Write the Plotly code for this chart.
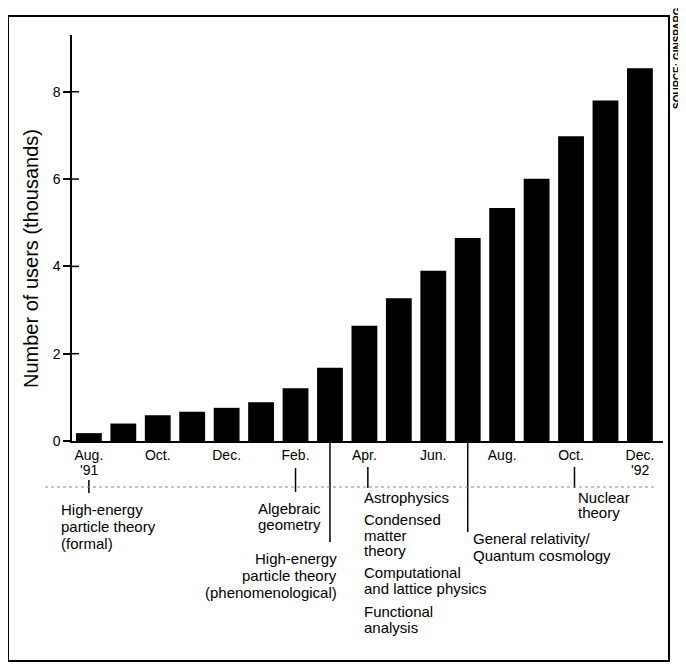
import plotly.graph_objects as go

# ---- data ----
months = ["Aug. '91", "Sep. '91", "Oct. '91", "Nov. '91", "Dec. '91", "Jan. '92",
          "Feb. '92", "Mar. '92", "Apr. '92", "May '92", "Jun. '92", "Jul. '92",
          "Aug. '92", "Sep. '92", "Oct. '92", "Nov. '92", "Dec. '92"]
users_thousands = [0.18, 0.40, 0.59, 0.67, 0.76, 0.89, 1.21, 1.68, 2.64, 3.27,
                   3.90, 4.65, 5.34, 6.01, 6.98, 7.80, 8.54]
tick_index = [0, 2, 4, 6, 8, 10, 12, 14, 16]
tick_text = ["Aug.", "Oct.", "Dec.", "Feb.", "Apr.", "Jun.", "Aug.", "Oct.", "Dec."]
year_text = ["'91", "'92"]
y_ticks = [0, 2, 4, 6, 8]
y_title = "Number of users (thousands)"
source_text = "SOURCE: GINSPARG"

# page body has an 8px margin; work in page pixel coordinates
OFF = 8
W, H = 686 - OFF, 664 - OFF
AX_L, AX_R, AX_T, AX_B = 72, 663, 35, 441          # plot area in page pixels
L, T = AX_L - OFF, AX_T - OFF
R, B = W - (AX_R - OFF), H - (AX_B - OFF)
PW, PH = AX_R - AX_L, AX_B - AX_T
FONT = "Liberation Sans, Arial, Helvetica, sans-serif"


def fx(px):
    return (px - AX_L) / PW


def fy(py):
    return (AX_B - py) / PH


x_idx = list(range(len(months)))

fig = go.Figure()
fig.add_trace(go.Bar(x=x_idx, y=users_thousands, width=0.75,
                     marker=dict(color="black", line=dict(width=0)),
                     hovertext=months, hoverinfo="text+y"))

shapes = []
# outer frame
shapes.append(dict(type="rect", xref="paper", yref="paper",
                   x0=fx(8), x1=fx(669), y0=fy(661), y1=fy(16),
                   line=dict(color="black", width=2)))
# y tick crosses (inside part)
for v in y_ticks[1:]:
    shapes.append(dict(type="line", xref="paper", yref="y",
                       x0=0, x1=fx(79), y0=v, y1=v,
                       line=dict(color="black", width=1.5)))
# vertical separators from x-axis
for i, bottom in [(7, 542), (11, 532)]:
    shapes.append(dict(type="line", xref="x", yref="paper",
                       x0=i, x1=i, y0=0, y1=fy(bottom),
                       line=dict(color="black", width=1.5)))
# short timeline ticks
for i, top, bot in [(0, 480, 493), (6, 468, 492), (8.1, 467, 488), (14.1, 467, 488)]:
    shapes.append(dict(type="line", xref="x", yref="paper",
                       x0=i, x1=i, y0=fy(top), y1=fy(bot),
                       line=dict(color="black", width=1.5)))
# dotted timeline
shapes.append(dict(type="line", xref="paper", yref="paper",
                   x0=fx(45), x1=fx(655), y0=fy(487), y1=fy(487),
                   line=dict(color="#888888", width=1, dash="dot")))

ann = []
# second line of first/last x tick labels
for i, t in [(0, year_text[0]), (16, year_text[1])]:
    ann.append(dict(x=i, y=fy(470), xref="x", yref="paper", text=t,
                    showarrow=False, xanchor="center", yanchor="middle",
                    font=dict(size=14, family=FONT, color="black")))


def lines(texts, px, ys, anchor):
    for t, py in zip(texts, ys):
        ann.append(dict(x=fx(px), y=fy(py), xref="paper", yref="paper", text=t,
                        showarrow=False, xanchor=anchor, yanchor="middle",
                        font=dict(size=15, family=FONT, color="black")))


lines(["High-energy", "particle theory", "(formal)"], 59, [509, 526, 543], "left")
lines(["Algebraic", "geometry"], 323, [508, 524], "right")
lines(["High-energy", "particle theory", "(phenomenological)"], 339, [558, 575, 592], "right")
lines(["Astrophysics"], 362, [497], "left")
lines(["Condensed", "matter", "theory"], 362, [520, 535, 550], "left")
lines(["Computational", "and lattice physics"], 362, [572, 588], "left")
lines(["Functional", "analysis"], 362, [611, 627], "left")
lines(["Nuclear", "theory"], 576, [497, 512], "left")
lines(["General relativity/", "Quantum cosmology"], 471, [538, 555], "left")

# y-axis title
ann.append(dict(x=fx(31), y=fy(259), xref="paper", yref="paper", text=y_title,
                showarrow=False, textangle=-90, xanchor="center", yanchor="middle",
                font=dict(size=20, family=FONT, color="black")))

# source credit
ann.append(dict(x=fx(678), y=fy(58), xref="paper", yref="paper", text="<b>" + source_text + "</b>",
                showarrow=False, textangle=-90, xanchor="center", yanchor="middle",
                font=dict(size=10, family=FONT, color="black")))

fig.update_layout(
    width=W, height=H,
    margin=dict(l=L, r=R, t=T, b=B, pad=0),
    paper_bgcolor="white", plot_bgcolor="white",
    showlegend=False,
    font=dict(family=FONT, color="black"),
    shapes=shapes, annotations=ann,
    xaxis=dict(range=[-0.49, 16.67], tickmode="array", tickvals=tick_index,
               ticktext=tick_text, ticks="", showline=True, linecolor="black",
               linewidth=1.5, showgrid=False, zeroline=False,
               tickfont=dict(size=14, family=FONT, color="black")),
    yaxis=dict(range=[0, 9.3], tickmode="array", tickvals=y_ticks,
               ticks="outside", ticklen=7, tickwidth=1.5, tickcolor="black",
               showline=True, linecolor="black", linewidth=1.5,
               showgrid=False, zeroline=False,
               tickfont=dict(size=14, family=FONT, color="black")),
)

fig.write_html("out.html")
